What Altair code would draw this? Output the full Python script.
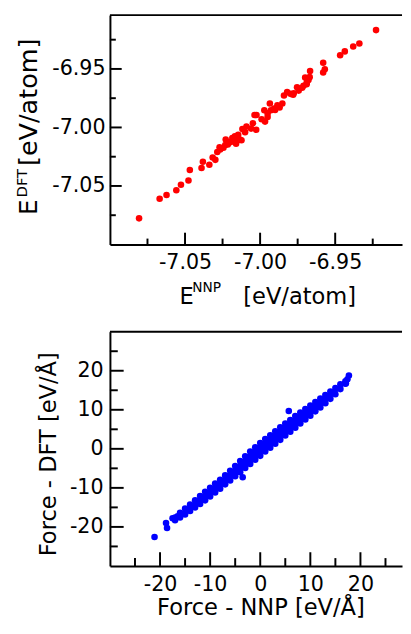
import altair as alt
import pandas as pd

FONT = "DejaVu Sans"

# ---------------- top panel: energies (eV/atom) ----------------
e_nnp = [-7.0806, -7.0669, -7.0623, -7.0558, -7.0527, -7.0477, -7.0468, -7.0390, -7.0381, -7.0338,
         -7.0316, -7.0298, -7.0285, -7.0266, -7.0244, -7.0229, -7.0215, -7.0200, -7.0185, -7.0168,
         -7.0157, -7.0146, -7.0135, -7.0124, -7.0118, -7.0091, -7.0048, -7.0037, -7.0026, -7.0024,
         -6.9972, -6.9967, -6.9950, -6.9935, -6.9928, -6.9907, -6.9885, -6.9852, -6.9841, -6.9820,
         -6.9798, -6.9776, -6.9754, -6.9743, -6.9711, -6.9700, -6.9689, -6.9678, -6.9667, -6.9580,
         -6.9580, -6.9569, -6.9467, -6.9436, -6.9380, -6.9339, -6.9228,
         -7.0210, -7.0190, -7.0172, -7.0160, -7.0232, -7.0270, -7.0100, -7.0060, -6.9990, -6.9950,
         -6.9900, -6.9870, -6.9780, -6.9720, -6.9690, -6.9670]
e_dft = [-7.0777, -7.0609, -7.0578, -7.0536, -7.0489, -7.0453, -7.0364, -7.0347, -7.0293, -7.0318,
         -7.0257, -7.0277, -7.0210, -7.0188, -7.0173, -7.0104, -7.0146, -7.0126, -7.0090, -7.0075,
         -7.0117, -7.0062, -7.0104, -7.0109, -7.0014, -6.9992, -6.9964, -6.9894, -7.0020, -6.9894,
         -6.9853, -6.9950, -6.9880, -6.9796, -6.9853, -6.9838, -6.9811, -6.9796, -6.9727, -6.9698,
         -6.9713, -6.9707, -6.9656, -6.9685, -6.9643, -6.9573, -6.9615, -6.9595, -6.9517, -6.9447,
         -6.9531, -6.9503, -6.9383, -6.9350, -6.9308, -6.9283, -6.9168,
         -7.0130, -7.0120, -7.0100, -7.0140, -7.0150, -7.0170, -7.0040, -7.0010, -6.9930, -6.9910,
         -6.9850, -6.9830, -6.9720, -6.9660, -6.9630, -6.9570]

top_major = [-7.05, -7.00, -6.95]
top_minor = [-7.075, -7.025, -6.975, -6.925]

# ---------------- bottom panel: forces (eV/Å) ----------------
band_x = [-17, -16, -15, -14, -13, -12, -11, -10, -9, -8, -7, -6, -5, -4, -3, -2, -1, 0,
          1, 2, 3, 4, 5, 6, 7, 8, 9, 10, 11, 12, 13, 14, 15, 16, 17]
band_hi = [-17.6, -16.4, -15.3, -14.3, -13.2, -12.1, -11.0, -10.0, -8.9, -7.9, -6.8, -5.6, -4.4,
           -3.1, -1.9, -0.7, 0.4, 1.5, 2.5, 3.5, 4.5, 5.5, 6.5, 7.4, 8.4, 9.3, 10.2, 11.1, 12.0,
           12.9, 13.8, 14.7, 15.6, 16.5, 17.3]
band_lo = [-18.3, -17.6, -16.8, -15.9, -15.0, -14.1, -13.2, -12.2, -11.2, -10.2, -9.1, -8.1, -7.0,
           -6.0, -4.9, -3.9, -2.8, -1.8, -0.7, 0.3, 1.3, 2.3, 3.4, 4.4, 5.4, 6.5, 7.5, 8.5, 9.6,
           10.6, 11.7, 12.8, 14.0, 15.3, 16.7]
f_nnp = [-21.1, -18.8, -18.6, -17.5, -16.5, 17.7, 17.4, 17.1, 5.7, -3.5]
f_dft = [-22.6, -19.0, -20.3, -17.8, -17.3, 18.8, 17.8, 16.8, 9.7, -7.3]

bot_major = [-20, -10, 0, 10, 20]
bot_minor = [-25, -15, -5, 5, 15, 25]

# ---------------- layout constants ----------------
W = 298
H1 = 234
H2 = 239
one = pd.DataFrame({"a": [0]})
LABEL_EXPR = "replace(datum.label, '\u2212', '-')"


def axis(values, fmt, pad):
    return alt.Axis(values=values, format=fmt, labelExpr=LABEL_EXPR, ticks=False, grid=False,
                    domain=True, domainColor="black", domainWidth=2, labelFont=FONT,
                    labelFontSize=21, labelColor="black", labelPadding=pad, title=None)


def txt(s, x, y, size, angle=0, align="left"):
    kw = dict(font=FONT, fontSize=size, color="black", align=align, baseline="alphabetic")
    if angle:
        kw["angle"] = angle
    return alt.Chart(one).mark_text(**kw).encode(x=alt.value(x), y=alt.value(y), text=alt.value(s))


def ticks_layers(x_enc, y_enc, major, minor, H, lmaj, lmin):
    out = []
    for vals, ln in ((major, lmaj), (minor, lmin)):
        dfy = pd.DataFrame({"y": vals})
        out.append(alt.Chart(dfy).mark_rule(color="black", strokeWidth=2).encode(
            y=y_enc, x=alt.value(0), x2=alt.value(ln)))
        dfx = pd.DataFrame({"x": vals})
        out.append(alt.Chart(dfx).mark_rule(color="black", strokeWidth=2).encode(
            x=x_enc, y=alt.value(H), y2=alt.value(H - ln)))
    return out


def frame_top():
    return alt.Chart(one).mark_rule(color="black", strokeWidth=2).encode(
        x=alt.value(0), x2=alt.value(W), y=alt.value(0))


# ---- top panel ----
x1 = alt.X("x:Q", scale=alt.Scale(domain=[-7.10, -6.9055], nice=False, zero=False),
           axis=axis(top_major, ".2f", 8))
y1 = alt.Y("y:Q", scale=alt.Scale(domain=[-7.10, -6.904], nice=False, zero=False),
           axis=axis(top_major, ".2f", 5))

top_df = pd.DataFrame({"x": e_nnp, "y": e_dft})
pts1 = alt.Chart(top_df).mark_circle(size=45, color="#ff0000", opacity=1).encode(x=x1, y=y1)
anchor = alt.Chart(one).mark_rule(strokeOpacity=0).encode(
    x=alt.value(-103.5), y=alt.value(0), y2=alt.value(1))

top = alt.layer(
    anchor, frame_top(), *ticks_layers(x1, y1, top_major, top_minor, H1, 12, 6), pts1,
    txt("E", 71, H1 + 61, 23), txt("NNP", 84, H1 + 49, 14), txt("[eV/atom]", 136, H1 + 61, 23),
    txt("E", -74, 204, 25, angle=270), txt("DFT", -85, 186, 15, angle=270),
    txt("[eV/atom]", -74, 154, 26, angle=270),
).properties(width=W, height=H1)

# ---- bottom panel ----
x2 = alt.X("x:Q", scale=alt.Scale(domain=[-30, 28.3], nice=False, zero=False),
           axis=axis(bot_major, "d", 8))
y2 = alt.Y("y:Q", scale=alt.Scale(domain=[-30, 30], nice=False, zero=False),
           axis=axis(bot_major, "d", 7))

band_df = pd.DataFrame({"x": band_x, "y": band_lo, "y2": band_hi})
band = alt.Chart(band_df).mark_area(color="#0000ff", opacity=1).encode(x=x2, y=y2, y2="y2:Q")
bpts_df = pd.DataFrame({"x": band_x + band_x + f_nnp, "y": band_hi + band_lo + f_dft})
pts2 = alt.Chart(bpts_df).mark_circle(size=45, color="#0000ff", opacity=1).encode(x=x2, y=y2)

bottom = alt.layer(
    frame_top(), *ticks_layers(x2, y2, bot_major, bot_minor, H2, 14, 8), band, pts2,
    txt("Force - NNP [eV/Å]", 154, H2 + 50, 23, align="center"),
    txt("Force - DFT [eV/Å]", -55, 125, 23, angle=270, align="center"),
).properties(width=W, height=H2)

chart = alt.vconcat(top, bottom, spacing=89, bounds="flush").properties(
    padding=0).configure_view(stroke=None)

chart.save("out.html", embed_options={"renderer": "svg", "actions": False})
